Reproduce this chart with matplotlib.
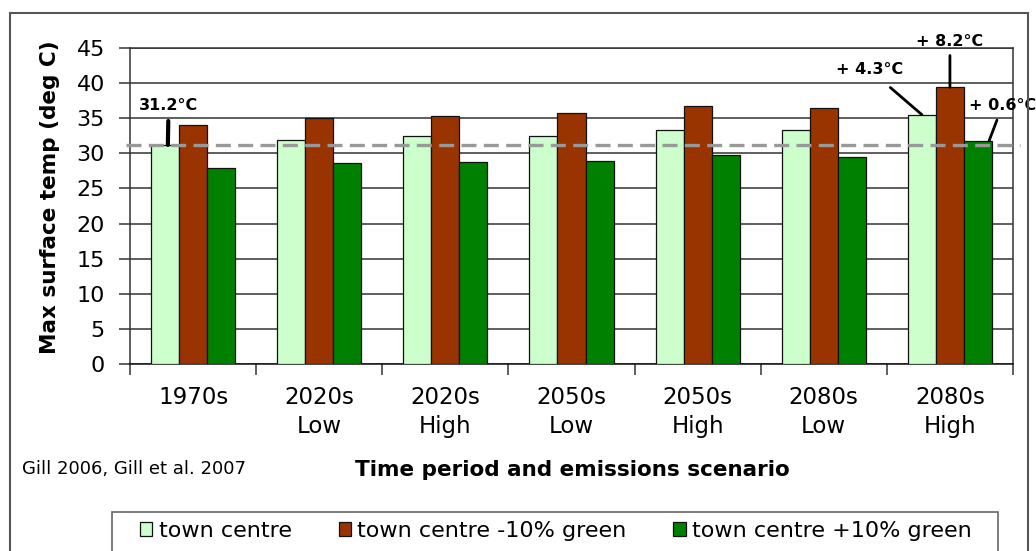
import numpy as np
import matplotlib
matplotlib.use("Agg")
import matplotlib.pyplot as plt
from matplotlib.patches import Rectangle

plt.rcParams["font.family"] = ["DejaVu Sans"]

# values
periods = ["1970s", "2020s\nLow", "2020s\nHigh", "2050s\nLow",
           "2050s\nHigh", "2080s\nLow", "2080s\nHigh"]
town_centre = [31.2, 31.9, 32.4, 32.5, 33.3, 33.3, 35.5]
minus_green = [34.0, 35.0, 35.3, 35.7, 36.8, 36.5, 39.4]
plus_green = [27.9, 28.6, 28.7, 28.9, 29.7, 29.5, 31.8]
series_names = ["town centre", "town centre -10% green", "town centre +10% green"]
colors = ["#CCFFCC", "#993300", "#008000"]
baseline = 31.2

W, H = 1036, 551
fig = plt.figure(figsize=(W / 100, H / 100), dpi=100)
ax = fig.add_axes([130 / W, 187 / H, 883 / W, 316 / H])

x = np.arange(len(periods))
w = 0.222
bars = []
for off, vals, col, name in zip([-w, 0, w], [town_centre, minus_green, plus_green],
                                colors, series_names):
    bars.append(ax.bar(x + off, vals, w, color=col, edgecolor="#111111",
                       linewidth=0.9, label=name, zorder=3))

ax.set_ylim(0, 45)
ax.set_xlim(-0.5, len(periods) - 0.5)
ax.set_yticks(np.arange(0, 46, 5))
ax.yaxis.grid(True, color="#333333", linewidth=1.1, zorder=0)
ax.set_axisbelow(True)
for s in ax.spines.values():
    s.set_color("#333333")
    s.set_linewidth(1.1)
ax.spines["bottom"].set_color("#111111")

ax.set_xticks(x)
ax.set_xticklabels(periods, linespacing=1.3)
ax.set_xticks(np.arange(-0.5, len(periods), 1), minor=True)
ax.tick_params(axis="x", which="major", length=0, pad=16, labelsize=16.5)
ax.tick_params(axis="x", which="minor", length=8, width=1.1, color="#333333")
ax.tick_params(axis="y", length=8, width=1.1, color="#333333", pad=10, labelsize=16)

# 1970s reference level
ax.axhline(baseline, xmin=-0.004, xmax=1.008, color="#999999", linewidth=2.4,
           dashes=(4.5, 2.2), clip_on=False, zorder=5)

ann = dict(fontsize=11.5, fontweight="bold", ha="center", va="center",
           textcoords="offset points", annotation_clip=False)
ax.annotate(f"{baseline}°C", xy=(x[0] - w * 0.9, town_centre[0]), xytext=(0.5, 28.6),
            arrowprops=dict(arrowstyle="-", lw=3, color="black", shrinkA=4, shrinkB=0), **ann)
ax.annotate(f"+ {minus_green[6] - baseline:.1f}°C", xy=(x[6], minus_green[6]), xytext=(0, 33.3),
            arrowprops=dict(arrowstyle="-", lw=2, color="black", shrinkA=3, shrinkB=0), **ann)
ax.annotate(f"+ {town_centre[6] - baseline:.1f}°C", xy=(x[6] - w, town_centre[6]),
            xytext=(-37.4, 32.2),
            arrowprops=dict(arrowstyle="-", lw=2, color="black", shrinkA=8, shrinkB=0), **ann)
ax.annotate(f"+ {plus_green[6] - baseline:.1f}°C", xy=(x[6] + w * 1.4, plus_green[6]),
            xytext=(9.5, 25),
            arrowprops=dict(arrowstyle="-", lw=2, color="black", shrinkA=3, shrinkB=0), **ann)

fig.text(50 / W, 1 - 197 / H, "Max surface temp (deg C)", rotation=90,
         ha="center", va="center", fontsize=15.5, fontweight="bold")
fig.text(572 / W, 1 - 470 / H, "Time period and emissions scenario",
         ha="center", va="center", fontsize=15.5, fontweight="bold")
fig.text(22 / W, 1 - 469 / H, "Gill 2006, Gill et al. 2007",
         ha="left", va="center", fontsize=13)

# outer frame and legend box (both run off the bottom of the image)
fig.patches.append(Rectangle((10 / W, -0.1), 1018 / W, 1.1 - 13 / H, transform=fig.transFigure,
                             fill=False, edgecolor="#555555", linewidth=1.5))
fig.patches.append(Rectangle((112 / W, -0.1), 886 / W, 0.1 + 1 - 512 / H,
                             transform=fig.transFigure, fill=False,
                             edgecolor="#666666", linewidth=1.2))
fig.legend(handles=bars, labels=series_names, loc="center", ncol=3,
           bbox_to_anchor=(556 / W, 1 - 531 / H), frameon=False, fontsize=16,
           handlelength=0.55, handleheight=0.55, handletextpad=0.3,
           columnspacing=2.1, borderpad=0)

fig.savefig("out.png", dpi=100)
